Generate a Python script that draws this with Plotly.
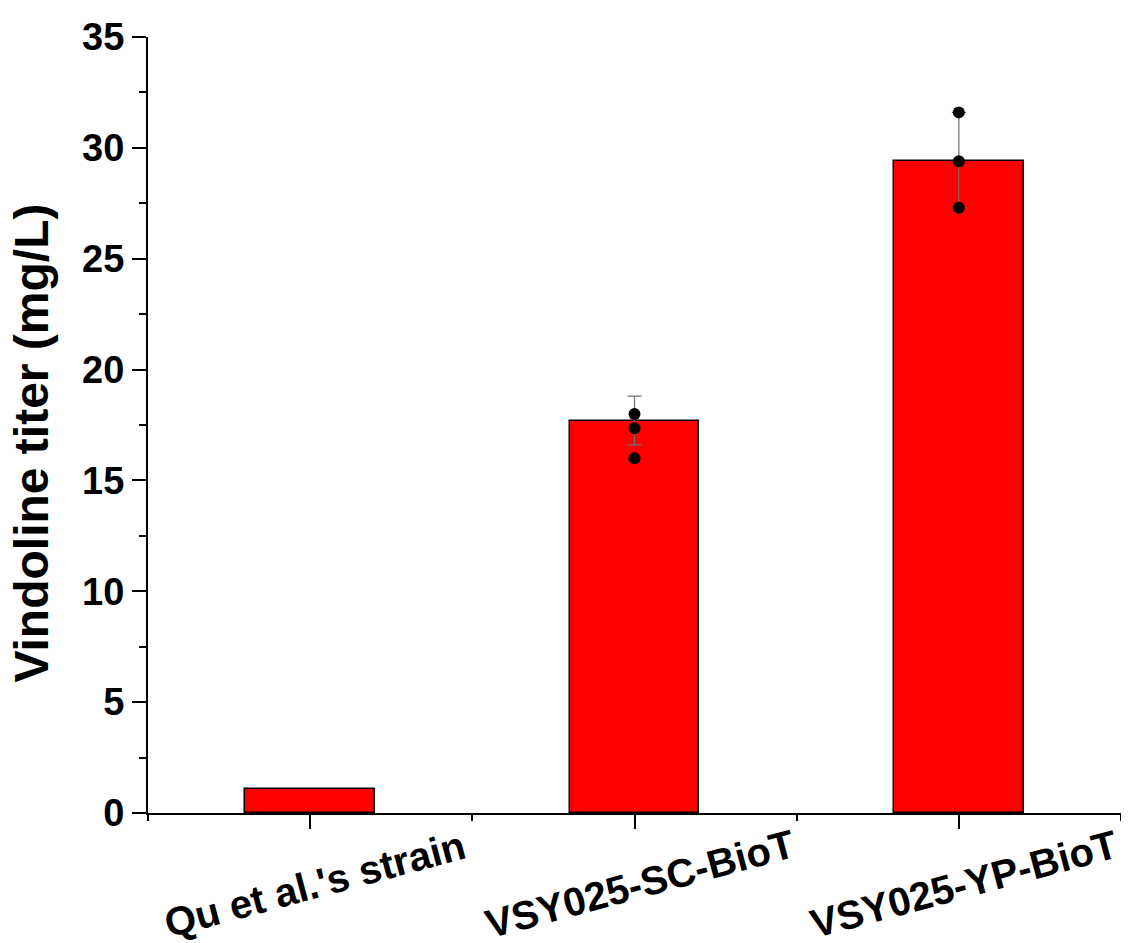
import plotly.graph_objects as go

categories = ["Qu et al.'s strain", "VSY025-SC-BioT", "VSY025-YP-BioT"]
means = [1.1, 17.7, 29.4]
err_cat = [1, 2]
err_mean = [17.7, 29.4]
err_plus = [1.1, 2.2]
err_minus = [1.1, 2.1]
rep_cat = [1, 1, 1, 2, 2, 2]
rep_vals = [18.0, 17.35, 16.0, 31.6, 29.4, 27.3]

xpos = list(range(len(categories)))

FONT = "Liberation Sans, Arial, sans-serif"

fig = go.Figure()
fig.add_trace(go.Bar(
    x=xpos, y=means, width=0.4,
    marker=dict(color="#FF0000", line=dict(color="black", width=1.5)),
    showlegend=False,
))
fig.add_trace(go.Scatter(
    x=err_cat, y=err_mean, mode="markers",
    marker=dict(color="rgba(0,0,0,0)", size=1),
    error_y=dict(type="data", symmetric=False, array=err_plus, arrayminus=err_minus,
                 color="#6e6e6e", thickness=1.2, width=7),
    showlegend=False, hoverinfo="skip",
))
fig.add_trace(go.Scatter(
    x=rep_cat, y=rep_vals, mode="markers",
    marker=dict(color="black", size=12),
    showlegend=False,
))

for i, c in enumerate(categories):
    fig.add_annotation(
        text="<b>%s</b>" % c, x=i, xref="x", y=0, yref="paper",
        xanchor="center", yanchor="middle", yshift=-71, xshift=5, textangle=-15,
        showarrow=False, font=dict(family=FONT, size=40, color="black"),
    )

fig.add_annotation(
    text="<b>Vindoline titer (mg/L)</b>", x=0, xref="paper", xshift=-116,
    y=0.476, yref="paper", xanchor="center", yanchor="middle", textangle=-90,
    showarrow=False, font=dict(family=FONT, size=48, color="black"),
)

fig.update_layout(
    width=1121, height=935,
    margin=dict(l=140, r=8, t=21, b=130),
    paper_bgcolor="white", plot_bgcolor="white",
    font=dict(family=FONT, color="black"),
    bargap=0,
)
fig.update_xaxes(
    range=[-0.5, 2.5], tickvals=xpos, showticklabels=False,
    ticks="outside", ticklen=14, tickwidth=2, tickcolor="black",
    showline=True, linewidth=2, linecolor="black", showgrid=False, zeroline=False,
    minor=dict(tickvals=[-0.5, 0.5, 1.5, 2.5], ticks="outside", ticklen=6,
               tickwidth=2, tickcolor="black", showgrid=False),
)
fig.update_yaxes(
    range=[0, 35], dtick=5, tick0=0,
    ticks="outside", ticklen=14, tickwidth=2, tickcolor="black",
    tickfont=dict(family=FONT, size=38, color="black"),
    tickprefix="<b>", ticksuffix="</b>",
    showline=True, linewidth=2, linecolor="black", showgrid=False, zeroline=False,
    minor=dict(dtick=2.5, ticks="outside", ticklen=7, tickwidth=2, tickcolor="black",
               showgrid=False),
)

fig.write_html("out.html")
